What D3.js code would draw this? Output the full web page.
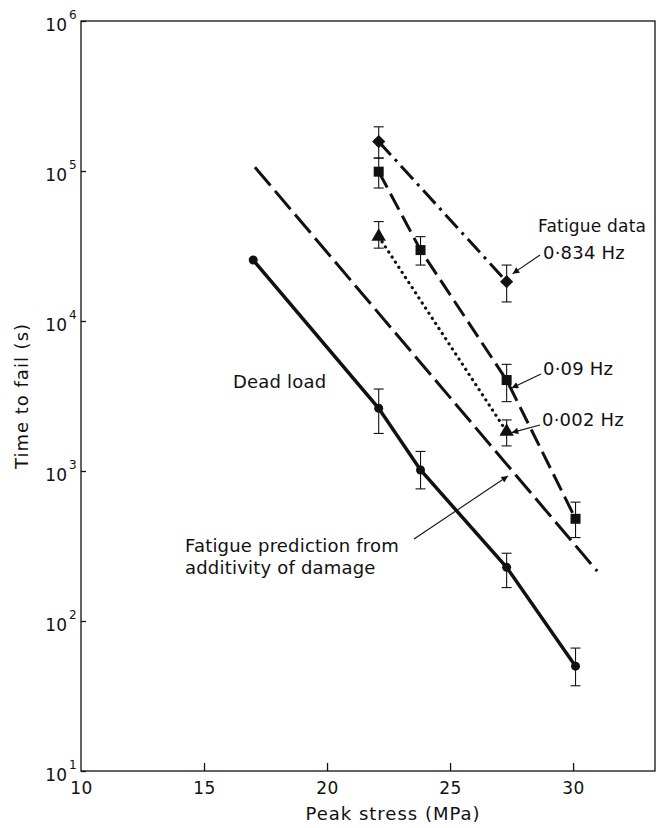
<!DOCTYPE html>
<html>
<head>
<meta charset="utf-8">
<script src="https://cdn.jsdelivr.net/npm/d3@7"></script>
<style>
  body { margin: 0; background: #fff; }
  svg text { font-family: "DejaVu Sans", sans-serif; fill: #111; }
</style>
</head>
<body>
<svg class="chart" width="661" height="828"></svg>
<script>
// stress columns (MPa)
var stress = [22.1, 23.8, 27.3, 30.1];

// dead load: start of fitted line + measured points
var deadStart = [17.0, 25500];
var deadTime = [2620, 1015, 228, 50];
var deadLo = [1780, 760, 167, 37];
var deadHi = [3520, 1350, 283, 66];

// fatigue 0.09 Hz
var f09Time = [99000, 29700, 4040, 480];
var f09Lo = [77000, 23600, 2900, 360];
var f09Hi = [122000, 36500, 5140, 620];

// fatigue 0.834 Hz
var f834Stress = [22.1, 27.3];
var f834Time = [157000, 18300];
var f834Lo = [122000, 13400];
var f834Hi = [197000, 23600];

// fatigue 0.002 Hz
var f002Stress = [22.1, 27.3];
var f002Time = [36500, 1830];
var f002Lo = [30600, 1470];
var f002Hi = [46000, 2190];

// prediction from additivity of damage (line ends)
var predStress = [17.07, 30.98];
var predTime = [106000, 215];

var xTicks = [10, 15, 20, 25, 30];
var yTicks = [1e1, 1e2, 1e3, 1e4, 1e5, 1e6];

var padL = 81, padR = 655, padT = 21, padB = 771;

var x = d3.scaleLinear().domain([10, 33.33]).range([padL, padR]);
var y = d3.scaleLog().domain([10, 1e6]).range([padB, padT]);

var canvas = d3.select(".chart");

// frame
canvas.append("rect")
    .attr("x", padL).attr("y", padT)
    .attr("width", padR - padL).attr("height", padB - padT)
    .attr("fill", "none").attr("stroke", "#111").attr("stroke-width", 1.3);

// x axis
var xAxis = d3.axisBottom(x).tickValues(xTicks).tickSize(0).tickPadding(11);
var xg = canvas.append("g")
    .attr("transform", "translate(0," + padB + ")")
    .call(xAxis);
xg.select(".domain").remove();
xg.selectAll("text")
    .attr("font-size", 17).attr("fill", "#111")
    .style("font-family", "DejaVu Sans, sans-serif")
    .style("letter-spacing", "0.5px");
xg.selectAll(".tick").filter(function (d) { return d > 10; })
    .append("line").attr("y1", 0).attr("y2", -8).attr("stroke", "#111").attr("stroke-width", 1.3);

// y axis
var yAxis = d3.axisLeft(y).tickValues(yTicks).tickSize(-5).tickFormat("");
var yg = canvas.append("g")
    .attr("transform", "translate(" + padL + ",0)")
    .call(yAxis);
yg.select(".domain").remove();
yg.selectAll("line").attr("stroke", "#111").attr("stroke-width", 1.3);
yg.selectAll(".tick").append("text")
    .attr("x", -14).attr("dy", 9)
    .attr("text-anchor", "end")
    .attr("font-size", 17)
    .text("10");
yg.selectAll(".tick").append("text")
    .attr("x", -12).attr("dy", -3)
    .attr("text-anchor", "start")
    .attr("font-size", 12)
    .text(function (d) { return Math.round(Math.log10(d)); });

// axis titles
canvas.append("text")
    .attr("x", 393).attr("y", 820)
    .attr("text-anchor", "middle").attr("font-size", 18)
    .style("letter-spacing", "1px")
    .text("Peak stress (MPa)");
canvas.append("text")
    .attr("transform", "translate(28," + ((padT + padB) / 2) + ") rotate(-90)")
    .attr("text-anchor", "middle").attr("font-size", 18)
    .style("letter-spacing", "1px")
    .text("Time to fail (s)");

var line = d3.line()
    .x(function (d) { return x(d[0]); })
    .y(function (d) { return y(d[1]); });

function zip(a, b) { return a.map(function (v, i) { return [v, b[i]]; }); }

// lines
canvas.append("path")
    .datum(zip(predStress, predTime))
    .attr("d", line).attr("fill", "none").attr("stroke", "#111")
    .attr("stroke-width", 3).attr("stroke-dasharray", "24,7");

canvas.append("path")
    .datum([deadStart].concat(zip(stress, deadTime)))
    .attr("d", line).attr("fill", "none").attr("stroke", "#111")
    .attr("stroke-width", 3.5);

canvas.append("path")
    .datum(zip(stress, f09Time))
    .attr("d", line).attr("fill", "none").attr("stroke", "#111")
    .attr("stroke-width", 3).attr("stroke-dasharray", "18,7");

canvas.append("path")
    .datum(zip(f834Stress, f834Time))
    .attr("d", line).attr("fill", "none").attr("stroke", "#111")
    .attr("stroke-width", 3).attr("stroke-dasharray", "18,6,3,6");

canvas.append("path")
    .datum(zip(f002Stress, f002Time))
    .attr("d", line).attr("fill", "none").attr("stroke", "#111")
    .attr("stroke-width", 3.2).attr("stroke-linecap", "round").attr("stroke-dasharray", "0.1,6");

// error bars
function errorBars(xs, lo, hi) {
    var g = canvas.append("g").attr("stroke", "#111").attr("stroke-width", 1.1);
    xs.forEach(function (s, i) {
        var cx = x(s);
        g.append("line").attr("x1", cx).attr("x2", cx).attr("y1", y(lo[i])).attr("y2", y(hi[i]));
        g.append("line").attr("x1", cx - 5).attr("x2", cx + 5).attr("y1", y(lo[i])).attr("y2", y(lo[i]));
        g.append("line").attr("x1", cx - 5).attr("x2", cx + 5).attr("y1", y(hi[i])).attr("y2", y(hi[i]));
    });
}
errorBars(stress, deadLo, deadHi);
errorBars(stress, f09Lo, f09Hi);
errorBars(f834Stress, f834Lo, f834Hi);
errorBars(f002Stress, f002Lo, f002Hi);

// markers
canvas.selectAll(".dead").data([deadStart].concat(zip(stress, deadTime))).enter()
    .append("circle")
    .attr("cx", function (d) { return x(d[0]); })
    .attr("cy", function (d) { return y(d[1]); })
    .attr("r", 4.5).attr("fill", "#111");

canvas.selectAll(".sq").data(zip(stress, f09Time)).enter()
    .append("rect")
    .attr("x", function (d) { return x(d[0]) - 5; })
    .attr("y", function (d) { return y(d[1]) - 5; })
    .attr("width", 10).attr("height", 10).attr("fill", "#111");

canvas.selectAll(".dia").data(zip(f834Stress, f834Time)).enter()
    .append("path")
    .attr("d", d3.symbol().type(d3.symbolDiamond2).size(110))
    .attr("transform", function (d) { return "translate(" + x(d[0]) + "," + y(d[1]) + ")"; })
    .attr("fill", "#111");

canvas.selectAll(".tri").data(zip(f002Stress, f002Time)).enter()
    .append("path")
    .attr("d", d3.symbol().type(d3.symbolTriangle).size(90))
    .attr("transform", function (d) { return "translate(" + x(d[0]) + "," + y(d[1]) + ")"; })
    .attr("fill", "#111");

// annotations
canvas.append("defs").append("marker")
    .attr("id", "arrow").attr("viewBox", "0 0 10 10")
    .attr("refX", 10).attr("refY", 5)
    .attr("markerWidth", 9).attr("markerHeight", 6)
    .attr("orient", "auto")
    .append("path").attr("d", "M0,0 L10,5 L0,10 Z").attr("fill", "#111");

function arrow(x1, y1, x2, y2) {
    canvas.append("line")
        .attr("x1", x1).attr("y1", y1).attr("x2", x2).attr("y2", y2)
        .attr("stroke", "#111").attr("stroke-width", 1.1)
        .attr("marker-end", "url(#arrow)");
}

function label(tx, ty, str, size) {
    canvas.append("text").attr("x", tx).attr("y", ty)
        .attr("font-size", size || 18).style("letter-spacing", "0.2px")
        .text(str);
}

label(538, 232, "Fatigue data", 17);
label(543, 259, "0·834 Hz");
label(543, 375, "0·09 Hz");
label(542, 426, "0·002 Hz");
label(233, 388, "Dead load");
label(185, 552, "Fatigue prediction from");
label(185, 574, "additivity of damage");

arrow(540, 255, x(27.3) + 6, y(f834Time[1]) - 8);
arrow(541, 374, x(27.3) + 5, y(f09Time[2]) + 8);
arrow(540, 425, x(27.3) + 5, y(f002Time[1]) + 1);
arrow(414, 539, 508, 476);
</script>
</body>
</html>
